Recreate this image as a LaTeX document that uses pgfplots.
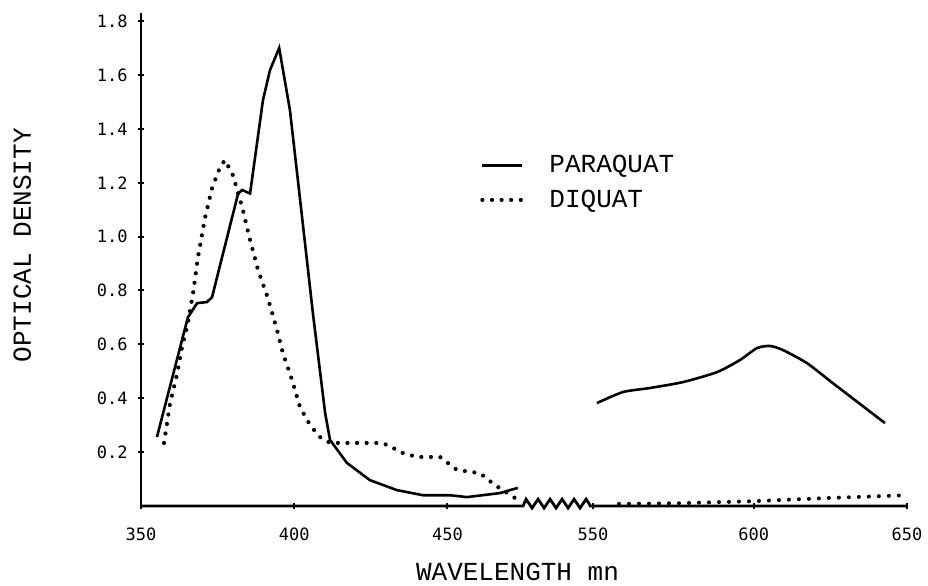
\documentclass[border=0pt]{standalone}
\usepackage{fontspec}
\setmainfont{Liberation Mono}
\setmonofont{Liberation Mono}
\newfontfamily\tickfont{DejaVu Sans Mono}
\usepackage{pgfplots}
\pgfplotsset{compat=1.18}
\usetikzlibrary{decorations.pathmorphing}
\begin{document}
\begin{tikzpicture}
\path[use as bounding box] (-70.5pt,-39.5pt) rectangle (393.5pt,253pt);
\begin{axis}[
  at={(0,0)}, anchor=south west,
  scale only axis, width=383pt, height=246.5pt,
  xmin=350, xmax=600, ymin=0, ymax=1.83,
  axis x line=bottom, axis y line=left,
  x axis line style={draw=none},
  y axis line style={-, line width=1.4pt},
  xtick={350,400,450,497.5,550,600},
  xticklabels={350,400,450,550,600,650},
  ytick={0.2,0.4,0.6,0.8,1.0,1.2,1.4,1.6,1.8},
  yticklabels={0.2,0.4,0.6,0.8,1.0,1.2,1.4,1.6,1.8},
  tick align=center, major tick length=3pt,
  tick style={line width=1pt, black},
  ticklabel style={font=\tickfont\fontsize{8.5}{10}\selectfont},
  xticklabel style={yshift=-6pt},
  yticklabel style={xshift=-1.7pt},
  xlabel={WAVELENGTH mn}, ylabel={OPTICAL DENSITY},
  label style={font=\fontsize{13}{15}\selectfont},
  xlabel style={at={(axis description cs:0.4915,-0.134)}, anchor=center},
  ylabel style={at={(axis description cs:-0.155,0.529)}, anchor=center},
  clip=false,
  legend style={draw=none, fill=none, at={(axis cs:460.6,1.20)}, anchor=west,
    font=\fontsize{13}{15}\selectfont, inner sep=0pt, row sep=5pt,
    nodes={inner sep=1pt}},
  legend cell align=left,
  legend image code/.code={\draw[#1] (0pt,0pt) -- (20pt,0pt);},
  /tikz/every odd column/.append style={column sep=11.5pt},
]
\addplot[black, line width=1.3pt] table[row sep=\\] {
wl od \\
355.2 0.256 \\ 360 0.467 \\ 365.3 0.70 \\ 368.3 0.753 \\ 371.5 0.757 \\ 373.2 0.775 \\
374.4 0.83 \\ 381.7 1.16 \\ 383 1.173 \\ 385.6 1.16 \\ 389.8 1.506 \\ 392.1 1.618 \\
395.1 1.70 \\ 398.6 1.47 \\ 401.2 1.21 \\ 406.1 0.716 \\ 410.1 0.345 \\ 411.7 0.245 \\
417.2 0.16 \\ 424.7 0.096 \\ 433.5 0.059 \\ 442 0.04 \\ 450.8 0.04 \\ 456.4 0.033 \\
467.2 0.048 \\ 470.4 0.059 \\ 473 0.067 \\
};
\addlegendentry{PARAQUAT}
\addplot[black, line width=2.1pt, line cap=round, dash pattern=on 0pt off 4.8pt] table[row sep=\\] {
wl od \\
357.5 0.234 \\ 358.5 0.308 \\ 359.5 0.382 \\ 361.7 0.486 \\ 363.4 0.59 \\ 365.3 0.68 \\
367.0 0.79 \\ 368.6 0.924 \\ 370.9 1.07 \\ 373.2 1.18 \\ 375.8 1.258 \\ 377.4 1.284 \\
380.0 1.228 \\ 383.0 1.11 \\ 385.6 0.987 \\ 388.2 0.876 \\ 391.4 0.772 \\ 394.4 0.653 \\
396.3 0.568 \\ 399.3 0.468 \\ 401.9 0.367 \\ 405.2 0.30 \\ 408.4 0.256 \\ 411.7 0.234 \\
428 0.234 \\ 431 0.225 \\ 434.5 0.20 \\ 440 0.182 \\ 447.6 0.182 \\ 453.1 0.134 \\
460.6 0.122 \\ 465.5 0.078 \\ 472 0.03 \\
};
\addlegendentry{DIQUAT}
\addplot[black, line width=1.3pt, smooth, tension=0.4, forget plot] table[row sep=\\, x expr=\thisrow{wl}-50, y=od] {
wl od \\
548.8 0.382 \\ 557.3 0.423 \\ 566.1 0.438 \\ 576.9 0.46 \\ 588 0.497 \\ 595.5 0.542 \\
601 0.586 \\ 605.3 0.594 \\ 609.5 0.579 \\ 617.4 0.53 \\ 625.8 0.456 \\ 642.8 0.308 \\
};
\addplot[black, line width=2pt, line cap=round, dash pattern=on 0pt off 5pt, forget plot] table[row sep=\\, x expr=\thisrow{wl}-50, y=od] {
wl od \\
556 0.008 \\ 575 0.01 \\ 600 0.018 \\ 625 0.03 \\ 650 0.04 \\
};
\draw[line width=1.4pt] (axis cs:350,0) -- (axis cs:474.7,0)
  decorate[decoration={zigzag, segment length=6pt, amplitude=2.2pt, raise=1.2pt}] {-- (axis cs:496.6,0)}
  -- (axis cs:600,0);
\end{axis}
\end{tikzpicture}
\end{document}
